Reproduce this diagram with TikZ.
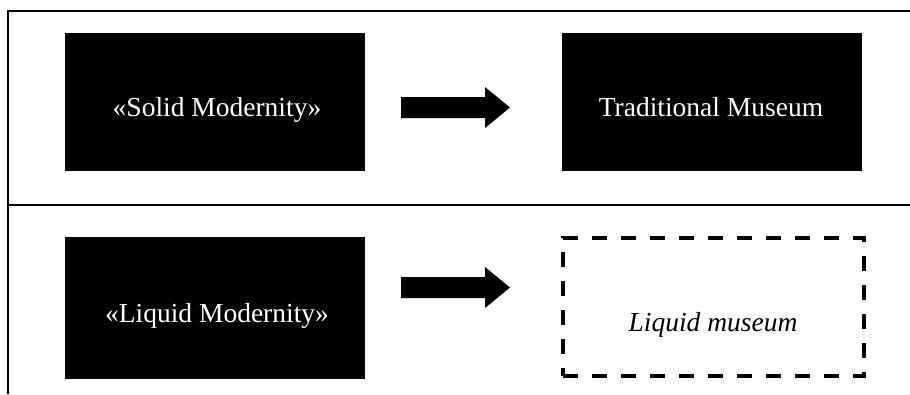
\documentclass[tikz,border=0pt]{standalone}
\usepackage{fontspec}
\setmainfont{Liberation Serif}
\begin{document}
\begin{tikzpicture}[x=1pt,y=-1pt,
  blackbox/.style={fill=black, draw=none, inner sep=0pt},
  dashbox/.style={draw=black, line width=3.6pt, dash pattern=on 15pt off 14pt, inner sep=0pt},
  lbl/.style={font=\fontsize{27.5}{33}\selectfont, inner sep=0pt, anchor=base},
  frameline/.style={line width=2pt, black},
  blockarrow/.style={fill=black}]
\useasboundingbox (0,0) rectangle (910,394);
% frame
\coordinate (tl) at (8,11);
\coordinate (tr) at (910,11);
\coordinate (bl) at (8,394);
\coordinate (ml) at (8,205);
\coordinate (mr) at (910,205);
\draw[frameline] (tr) -- (tl) -- (bl);
\draw[frameline] (ml) -- (mr);
% boxes
\node[blackbox, minimum width=300pt, minimum height=138pt] (solid) at (215,102) {};
\node[blackbox, minimum width=300pt, minimum height=138pt] (trad) at (712,102) {};
\node[blackbox, minimum width=300pt, minimum height=142pt] (liquid) at (215,308) {};
\node[dashbox, minimum width=301pt, minimum height=138pt] (lmus) at (713.5,307) {};
% texts
\node[lbl, text=white] (solidt) at (217,116) {«Solid Modernity»};
\node[lbl, text=white] (tradt) at (711,116) {Traditional Museum};
\node[lbl, text=white] (liquidt) at (217,322) {«Liquid Modernity»};
\node[lbl, font=\fontsize{27.5}{33}\selectfont\itshape] (lmust) at (713,331) {Liquid museum};
% arrows
\fill[blockarrow] (401,97) -- (485,97) -- (485,87) -- (510,107.5) -- (485,128) -- (485,118) -- (401,118) -- cycle;
\fill[blockarrow] (401,277) -- (485,277) -- (485,267) -- (510,287.5) -- (485,308) -- (485,298) -- (401,298) -- cycle;
\end{tikzpicture}
\end{document}
